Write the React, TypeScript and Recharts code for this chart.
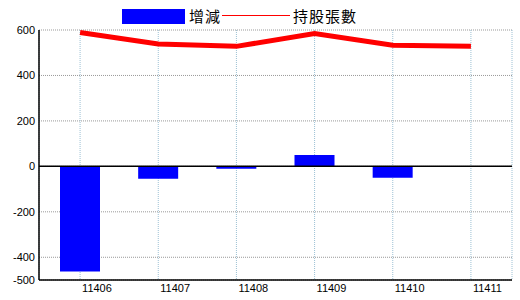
import React from "react";
import {
  ComposedChart,
  Bar,
  Line,
  XAxis,
  YAxis,
  CartesianGrid,
  ReferenceLine,
  Legend,
} from "recharts";

const categories = ["11406", "11407", "11408", "11409", "11410", "11411"];
const changeValues: (number | null)[] = [-463, -54, -10, 50, -50, null];
const holdingValues = [589, 538, 528, 585, 533, 528];
const yTicks = [600, 400, 200, 0, -200, -400, -500];

const data = categories.map((c, i) => ({
  name: c,
  change: changeValues[i],
  holding: holdingValues[i],
}));

const FONT = "'Liberation Sans', Arial, sans-serif";
const CJK = "'Noto Sans CJK TC', 'Noto Sans CJK SC', sans-serif";

const XTick = (props: any) => {
  const { x, y, payload } = props;
  return (
    <text x={x + 2} y={y + 12} textAnchor="start" fontSize={11} fontFamily={FONT} fill="#000">
      {payload.value}
    </text>
  );
};

const labelStyle: React.CSSProperties = {
  position: "absolute",
  top: 5,
  fontSize: 15,
  letterSpacing: 1,
  fontFamily: CJK,
  lineHeight: "21px",
  color: "#000",
  whiteSpace: "nowrap",
};

const LegendContent = () => (
  <div style={{ position: "relative", width: 520, height: 30 }}>
    <div style={{ position: "absolute", left: 122, top: 9, width: 63, height: 15, background: "#0000ff" }} />
    <div style={{ ...labelStyle, left: 189 }}>增減</div>
    <div style={{ position: "absolute", left: 222, top: 15, width: 68, height: 1, background: "#ff0000" }} />
    <div style={{ ...labelStyle, left: 293 }}>持股張數</div>
  </div>
);

export default function App() {
  return (
    <div style={{ position: "absolute", left: 0, top: 0, width: 520, height: 300, background: "#fff" }}>
      <ComposedChart
        width={520}
        height={300}
        data={data}
        margin={{ top: 30, right: 8, bottom: 0, left: 0 }}
      >
        <CartesianGrid horizontal={true} vertical={false} stroke="#999999" strokeDasharray="1 1" />
        <CartesianGrid horizontal={false} vertical={true} stroke="#9cc0d4" strokeDasharray="1 1" />
        <XAxis
          dataKey="name"
          height={20}
          padding={{ left: 2, right: 2 }}
          tickLine={false}
          tickSize={0}
          tickMargin={0}
          axisLine={{ stroke: "#000", strokeWidth: 1.5 }}
          tick={<XTick />}
          interval={0}
        />
        <XAxis
          xAxisId="top"
          orientation="top"
          dataKey="name"
          height={0}
          tick={false}
          tickLine={false}
          axisLine={{ stroke: "#000", strokeWidth: 1.5 }}
        />
        <YAxis
          width={39}
          domain={[-500, 600]}
          ticks={yTicks}
          interval={0}
          tickLine={false}
          tickSize={0}
          tickMargin={4}
          axisLine={{ stroke: "#000", strokeWidth: 1.5 }}
          tick={{ fontSize: 11, fontFamily: FONT, fill: "#000" }}
          allowDataOverflow
        />
        <YAxis
          yAxisId="right"
          orientation="right"
          width={0}
          tick={false}
          tickLine={false}
          axisLine={{ stroke: "#000", strokeWidth: 1.5 }}
        />
        <ReferenceLine y={0} stroke="#000" strokeWidth={1.5} />
        <Legend
          layout="horizontal"
          verticalAlign="middle"
          align="center"
          wrapperStyle={{ top: 0, left: 0, width: 520, height: 30 }}
          content={<LegendContent />}
        />
        <Bar dataKey="change" fill="#0000ff" barSize={40} isAnimationActive={false} />
        <Line
          dataKey="holding"
          stroke="#ff0000"
          strokeWidth={5}
          dot={false}
          activeDot={false}
          type="linear"
          isAnimationActive={false}
        />
      </ComposedChart>
    </div>
  );
}
